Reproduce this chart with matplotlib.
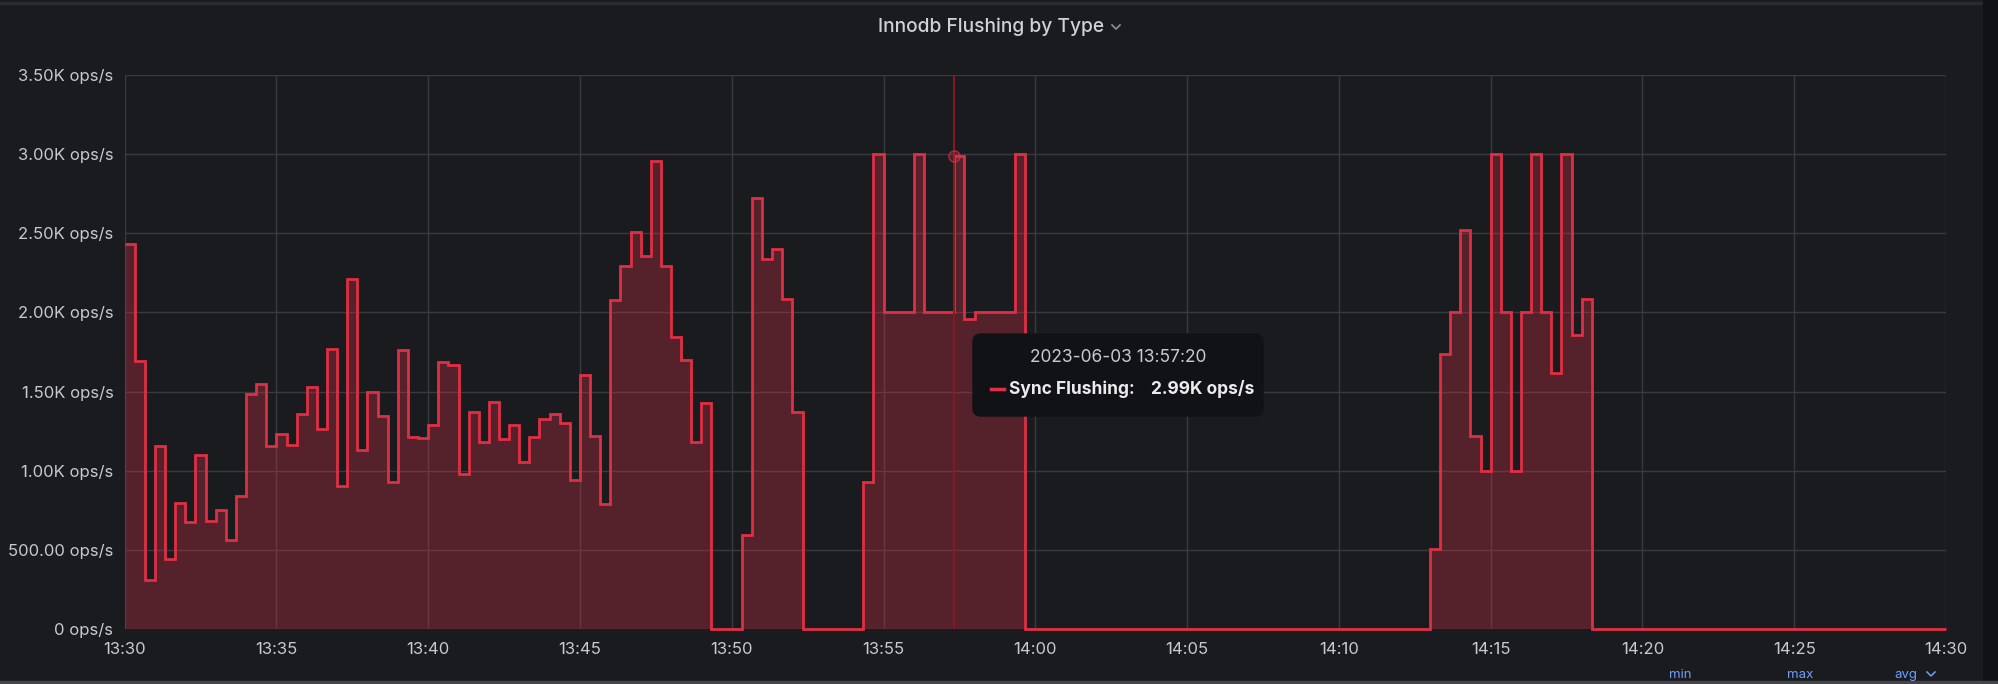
'''Innodb Flushing by Type - grafana style panel redrawn with matplotlib'''

import matplotlib.pyplot as plt
import matplotlib.dates as mdates
from matplotlib.ticker import FuncFormatter, MultipleLocator
from matplotlib.patches import FancyBboxPatch, Rectangle
from matplotlib.lines import Line2D
import pandas as pd

TITLE = 'Innodb Flushing by Type'
SERIES_NAME = 'Sync Flushing'
START = '2023-06-03 13:30:00'
STEP = '20s'

# one value per 20 s sample, 13:30:00 -> 14:29:40
sync_flushing = [
    2430, 1695, 310, 1160, 445, 800, 675, 1100, 685, 755, 565, 840, 1485, 1550, 1160,
    1235, 1165, 1360, 1530, 1265, 1770, 905, 2210, 1130, 1495, 1345, 930, 1765, 1215, 1210,
    1290, 1685, 1670, 980, 1370, 1180, 1435, 1200, 1290, 1055, 1215, 1325, 1360, 1300, 945,
    1605, 1220, 790, 2080, 2290, 2510, 2355, 2955, 2290, 1845, 1700, 1180, 1430, 0, 0,
    0, 595, 2720, 2340, 2400, 2085, 1370, 0, 0, 0, 0, 0, 0, 930, 3000,
    2000, 2000, 2000, 3000, 2000, 2000, 2000, 2990, 1960, 2000, 2000, 2000, 2000, 3000, 0,
    0, 0, 0, 0, 0, 0, 0, 0, 0, 0, 0, 0, 0, 0, 0,
    0, 0, 0, 0, 0, 0, 0, 0, 0, 0, 0, 0, 0, 0, 0,
    0, 0, 0, 0, 0, 0, 0, 0, 0, 505, 1735, 2000, 2520, 1220, 1000,
    3000, 2000, 1000, 2000, 3000, 2000, 1615, 3000, 1860, 2085, 0, 0, 0, 0, 0,
    0, 0, 0, 0, 0, 0, 0, 0, 0, 0, 0, 0, 0, 0, 0,
    0, 0, 0, 0, 0, 0, 0, 0, 0, 0, 0, 0, 0, 0, 0,
]
hover_time = '2023-06-03 13:57:20'
hover_value = 2990
hover_label = '2.99K ops/s'
footer_labels = ['min', 'max', 'avg']

W, H = 1999, 684
BG = '#1a1b1f'
RED = '#e02f44'
TEXT = '#c8c9cf'
GRID = '#393a3f'


def px(x, y):
    '''pixel position (from top left) -> figure fraction'''
    return x / W, 1 - y / H


def ops_label(v, pos):
    if v == 0:
        return '0 ops/s'
    if v < 1000:
        return f'{v:.2f} ops/s'
    return f'{v / 1000:.2f}K ops/s'


plt.rcParams['font.family'] = ['Inter', 'DejaVu Sans']

fig = plt.figure(figsize=(W / 100, H / 100), dpi=100, facecolor=BG)

# panel frame bits: top border, darker strip at right, bottom strip
fig.patches.append(Rectangle(px(0, 4), 1, 2 / H, transform=fig.transFigure, color='#2a2b30', zorder=0))
fig.patches.append(Rectangle(px(1983, H), 16 / W, 1, transform=fig.transFigure, color='#111216', zorder=0))
fig.patches.append(Rectangle(px(0, H), 1, 3 / H, transform=fig.transFigure, color='#44454a', zorder=0))

x0, y0 = px(124.6, 629.4)
x1, y1 = px(1946, 74.7)
ax = fig.add_axes([x0, y0, x1 - x0, y1 - y0])
ax.set_facecolor(BG)

edges = pd.date_range(START, periods=len(sync_flushing) + 1, freq=STEP)
edge_nums = mdates.date2num(edges)

ax.stairs(sync_flushing, edge_nums, fill=True, color=RED, alpha=0.3, lw=0, zorder=2)
ax.stairs(sync_flushing, edge_nums, baseline=None, color=RED, lw=2.0, zorder=3, clip_on=False)

# hover crosshair + point
t_hover = mdates.date2num(pd.Timestamp(hover_time))
ax.axvline(t_hover, color='#8c1720', lw=1.4, zorder=4)
ax.plot([t_hover], [hover_value], 'o', ms=8, mfc=(0.88, 0.18, 0.27, 0.25),
        mec=(0.88, 0.18, 0.27, 0.6), mew=1.2, zorder=5)

ax.set_xlim(edge_nums[0], edge_nums[-1])
ax.set_ylim(0, 3500)
ax.yaxis.set_major_locator(MultipleLocator(500))
ax.yaxis.set_major_formatter(FuncFormatter(ops_label))
ax.xaxis.set_major_locator(mdates.MinuteLocator(byminute=range(0, 60, 5)))
ax.xaxis.set_major_formatter(mdates.DateFormatter('%H:%M'))

ax.grid(True, color=GRID, lw=1.0, zorder=1)
ax.set_axisbelow(True)
for s in ax.spines.values():
    s.set_visible(False)
ax.tick_params(axis='both', length=0, labelsize=12, labelcolor=TEXT)
ax.tick_params(axis='y', pad=8)
ax.tick_params(axis='x', pad=9)

# title with the little dropdown chevron
tx, ty = px(991, 27)
fig.text(tx, ty, TITLE, ha='center', va='center', fontsize=13.8, fontweight='medium', color='#d0d1d8')
fig.lines.append(Line2D([1112 / W, 1116 / W, 1120 / W], [1 - 25 / H, 1 - 29 / H, 1 - 25 / H],
                        transform=fig.transFigure, color='#8e8f98', lw=1.2))

# tooltip
bx, by = px(973, 416)
tip = FancyBboxPatch((bx, by), 290 / W, 82 / H, boxstyle='round,pad=0,rounding_size=0.004',
                     mutation_aspect=W / H, transform=fig.transFigure,
                     facecolor='#111215', edgecolor='#111215', zorder=10)
fig.patches.append(tip)
fig.text(*px(1118, 358), hover_time, ha='center', va='center', fontsize=12.5,
         color='#c9cacf', zorder=11)
fig.lines.append(Line2D([991 / W, 1004 / W], [1 - 389 / H, 1 - 389 / H],
                        transform=fig.transFigure, color=RED, lw=2.5, zorder=11))
fig.text(*px(1009, 389), SERIES_NAME + ':', ha='left', va='center', fontsize=12.5,
         fontweight='bold', color='#ebebee', zorder=11)
fig.text(*px(1151, 389), hover_label, ha='left', va='center', fontsize=12.5,
         fontweight='bold', color='#ebebee', zorder=11)

# legend header at the very bottom of the panel
for lbl, xc in zip(footer_labels, [1680, 1800, 1906]):
    fig.text(*px(xc, 681), lbl, ha='center', va='bottom', fontsize=9.5, color='#6e9fff')
fig.lines.append(Line2D([1927 / W, 1931 / W, 1935 / W], [1 - 672 / H, 1 - 676 / H, 1 - 672 / H],
                        transform=fig.transFigure, color='#6e9fff', lw=1.1))

fig.savefig('out.png', dpi=100, facecolor=BG)
